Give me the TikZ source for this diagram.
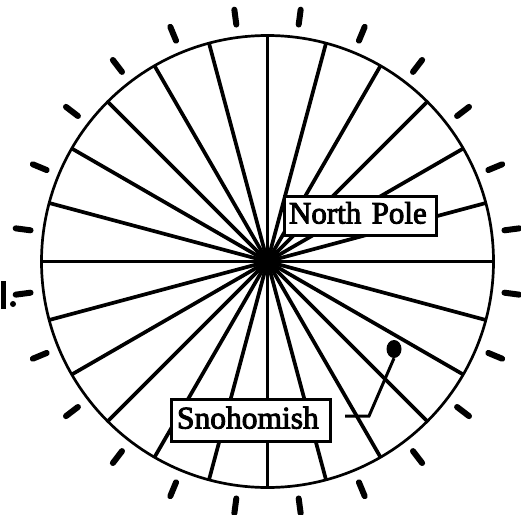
\documentclass[tikz,border=0pt]{standalone}
\usepackage{fontspec}
\setmainfont{Liberation Serif}
\newfontfamily\inkfont[FakeBold=3]{Liberation Serif}
\usetikzlibrary{shapes.geometric}
\begin{document}
\begin{tikzpicture}[x=1pt,y=-1pt,
  spoke/.style={line width=3.7pt},
  rim/.style={line width=2.7pt},
  tickmark/.style={line width=6pt,line cap=round},
  lbox/.style={draw,line width=3pt,fill=white,inner ysep=0pt,align=left},
  stick/.style={line width=3pt},
]
\useasboundingbox (0,0) rectangle (521,514);
\coordinate (c) at (267.5,261.5);
\foreach \a in {0,15,...,345} \draw[spoke] (c) -- ([shift={(\a:226)}]c);
\draw[rim] (c) circle[radius=226pt];
\foreach \a in {7.5,22.5,...,352.5} \draw[tickmark] ([shift={(\a:239)}]c) -- ([shift={(\a:254)}]c);
\node[lbox, inner xsep=5pt, text width=142pt, minimum height=39pt, text height=21pt, text depth=5pt, font=\inkfont\fontsize{31}{31}\selectfont] (np) at (360,215.5) {North Pole};
\node[lbox, inner xsep=6pt, text width=147pt, minimum height=42pt, text height=22pt, text depth=5pt, font=\inkfont\fontsize{31.5}{31.5}\selectfont] (sn) at (250.5,420) {Snohomish};
\node[ellipse, fill, minimum width=15pt, minimum height=18pt, inner sep=0pt] (dot) at (394,349) {};
\coordinate (knee) at (369,416);
\coordinate (foot) at (345,416);
\draw[stick] (dot.south) -- (knee) -- (foot);
\coordinate (bartop) at (3,281);
\coordinate (barbot) at (3,309);
\draw[line width=5pt] (bartop) -- (barbot);
\node[circle, fill, minimum size=6pt, inner sep=0pt] (pt) at (13,304) {};
\end{tikzpicture}
\end{document}
